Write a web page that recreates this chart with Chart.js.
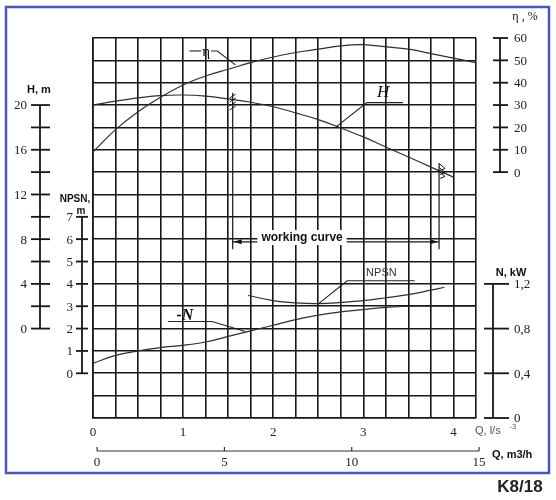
<!DOCTYPE html>
<html>
<head>
<meta charset="utf-8">
<script src="https://cdn.jsdelivr.net/npm/chart.js@4.4.0/dist/chart.umd.min.js"></script>
<style>
  html, body { margin: 0; padding: 0; background: #fff; }
  canvas { display: block; }
</style>
</head>
<body>
<canvas id="pumpChart" width="556" height="500"></canvas>
<script>
// grid: Q in l/s every 0.25, 17 rows
const gridQ = [0, 0.25, 0.5, 0.75, 1, 1.25, 1.5, 1.75, 2, 2.25, 2.5, 2.75, 3, 3.25, 3.5, 3.75, 4, 4.25];
const gridRows = [0, 1, 2, 3, 4, 5, 6, 7, 8, 9, 10, 11, 12, 13, 14, 15, 16, 17];
const flowLabels = [0, 1, 2, 3, 4];

// efficiency eta, %
const qEta = [0, 0.25, 0.5, 0.75, 1, 1.25, 1.5, 1.75, 2, 2.25, 2.5, 2.75, 3, 3.25, 3.5, 3.75, 4, 4.25];
const etaValues = [9, 19, 27, 33.5, 39, 43, 46, 49, 51.5, 53.5, 55, 56.5, 57, 56, 55, 53, 51, 49];

// head H, m
const qHead = [0, 0.25, 0.5, 0.75, 1, 1.25, 1.5, 1.75, 2, 2.25, 2.5, 2.75, 3, 3.25, 3.5, 3.75, 4];
const headValues = [20, 20.35, 20.65, 20.85, 20.9, 20.8, 20.55, 20.25, 19.85, 19.3, 18.7, 17.95, 17.15, 16.25, 15.35, 14.45, 13.55];

// power N, kW
const qPower = [0, 0.25, 0.5, 0.75, 1, 1.25, 1.5, 1.75, 2, 2.25, 2.5, 2.75, 3, 3.25, 3.5, 3.75, 4, 4.25];
const powerValues = [0.49, 0.56, 0.6, 0.63, 0.65, 0.68, 0.73, 0.78, 0.83, 0.88, 0.92, 0.95, 0.97, 0.99, 1.0, 1.0, 1.0, 1.0];

// NPSN, m
const qNpsh = [1.72, 2, 2.25, 2.5, 2.75, 3, 3.25, 3.5, 3.75, 3.9];
const npshValues = [3.48, 3.25, 3.15, 3.12, 3.17, 3.25, 3.38, 3.52, 3.72, 3.85];

// side scales
const headTicks = [0, 2, 4, 6, 8, 10, 12, 14, 16, 18, 20];
const headLabels = ['0', '', '4', '', '8', '', '12', '', '16', '', '20'];
const npshTicks = [0, 1, 2, 3, 4, 5, 6, 7];
const etaTicks = [0, 10, 20, 30, 40, 50, 60];
const powerTicks = [0, 0.4, 0.8, 1.2];
const powerLabels = ['0', '0,4', '0,8', '1,2'];
const flowM3hTicks = [0, 5, 10, 15];

// working range, l/s
const workRange = [1.55, 3.84];

const SERIF = '"Liberation Serif", "DejaVu Serif", serif';
const SANS = '"Liberation Sans", Arial, sans-serif';
const INK = '#161616';
const CURVE = '#2e2e2e';

function pts(qs, vs) {
    return qs.map((q, i) => ({ x: q, y: vs[i] }));
}

function poly(ctx, p) {
    ctx.beginPath();
    ctx.moveTo(p[0][0], p[0][1]);
    for (let i = 1; i < p.length; i++) ctx.lineTo(p[i][0], p[i][1]);
    ctx.stroke();
}

function sideAxis(ctx, scale, x, ticks, labels, t0, t1, labelX, align) {
    const top = scale.getPixelForValue(ticks[ticks.length - 1]);
    const bottom = scale.getPixelForValue(ticks[0]);
    ctx.strokeStyle = INK;
    ctx.lineWidth = 1.8;
    poly(ctx, [[x, top], [x, bottom]]);
    ctx.font = '13px ' + SERIF;
    ctx.fillStyle = '#222';
    ctx.textAlign = align;
    ctx.textBaseline = 'middle';
    ticks.forEach((v, i) => {
        const y = scale.getPixelForValue(v);
        poly(ctx, [[x + t0, y], [x + t1, y]]);
        if (labels[i] !== '') ctx.fillText(labels[i], labelX, y + 1);
    });
}

function arrowHead(ctx, x, y, dir) {
    ctx.beginPath();
    ctx.moveTo(x, y);
    ctx.lineTo(x - dir * 8, y - 2.5);
    ctx.lineTo(x - dir * 8, y + 2.5);
    ctx.closePath();
    ctx.fill();
}

const pumpDecor = {
    id: 'pumpDecor',
    beforeDraw(chart) {
        const ctx = chart.ctx;
        ctx.save();
        ctx.fillStyle = '#fff';
        ctx.fillRect(0, 0, chart.width, chart.height);
        ctx.restore();
    },
    afterDatasetsDraw(chart) {
        const { ctx, chartArea: area, scales } = chart;
        const px = q => scales.x.getPixelForValue(q);
        const py = r => scales.y.getPixelForValue(r);
        ctx.save();

        // margin axes
        sideAxis(ctx, scales.yH, area.left - 53, headTicks, headLabels, -9, 10, area.left - 66, 'right');
        sideAxis(ctx, scales.yNPSN, area.left - 11, npshTicks, npshTicks.map(String), -6, 6, area.left - 20, 'right');
        sideAxis(ctx, scales.yEta, area.right + 24, etaTicks, etaTicks.map(String), -7, 8, area.right + 38, 'left');
        sideAxis(ctx, scales.yN, area.right + 17, powerTicks, powerLabels, -9, 16, area.right + 38, 'left');

        // axis titles
        ctx.fillStyle = '#111';
        ctx.textBaseline = 'middle';
        ctx.font = 'bold 11px ' + SANS;
        ctx.textAlign = 'left';
        ctx.fillText('H, m', area.left - 66, scales.yH.getPixelForValue(20) - 15);
        ctx.font = 'bold 10px ' + SANS;
        ctx.textAlign = 'center';
        ctx.fillText('NPSN,', area.left - 18, scales.yNPSN.getPixelForValue(7) - 18);
        ctx.fillText('m', area.left - 12, scales.yNPSN.getPixelForValue(7) - 6);
        ctx.font = 'bold 11px ' + SANS;
        ctx.fillText('N, kW', area.right + 35, scales.yN.getPixelForValue(1.2) - 11);
        ctx.font = '12px ' + SERIF;
        ctx.fillText('\u03B7 , %', area.right + 49, area.top - 21);

        // flow in m3/h
        const xq = scales.xQ;
        const qy = area.bottom + 33;
        ctx.strokeStyle = '#333';
        ctx.lineWidth = 1.2;
        poly(ctx, [[xq.getPixelForValue(0), qy], [xq.getPixelForValue(15), qy]]);
        ctx.font = '13px ' + SERIF;
        ctx.fillStyle = '#222';
        flowM3hTicks.forEach(v => {
            const x = xq.getPixelForValue(v);
            poly(ctx, [[x, qy], [x, qy - 4]]);
            ctx.fillText(String(v), x, qy + 12);
        });
        ctx.font = 'bold 11px ' + SANS;
        ctx.textAlign = 'left';
        ctx.fillStyle = '#111';
        ctx.fillText('Q, m3/h', area.right + 16, qy + 4);
        ctx.font = '11px ' + SANS;
        ctx.fillStyle = '#555';
        ctx.fillText('Q, l/s', area.right - 1, area.bottom + 13);
        ctx.font = '7px ' + SANS;
        ctx.fillText('-3', area.right + 34, area.bottom + 9);

        // working curve range
        ctx.strokeStyle = INK;
        ctx.fillStyle = INK;
        ctx.lineWidth = 1.2;
        const xl = px(workRange[0]);
        const xr = px(workRange[1]);
        poly(ctx, [[xl, py(14.55)], [xl, py(7.55)]]);
        poly(ctx, [[xr, py(11.4)], [xr, py(7.55)]]);
        const ay = py(7.88);
        poly(ctx, [[xl, ay], [xr, ay]]);
        arrowHead(ctx, xl + 1, ay, -1);
        arrowHead(ctx, xr - 1, ay, 1);
        ctx.font = 'bold 12px ' + SANS;
        ctx.textAlign = 'center';
        const tx = px(2.32);
        const ty = py(8.05);
        const tw = ctx.measureText('working curve').width;
        ctx.fillStyle = '#fff';
        ctx.fillRect(tx - tw / 2 - 4, ty - 8, tw + 8, 15);
        ctx.fillStyle = '#111';
        ctx.fillText('working curve', tx, ty);

        // hatches at ends of working range
        ctx.lineWidth = 1;
        [0, 1, 2, 3].forEach(k => {
            const y = py(14.45) + k * 4;
            poly(ctx, [[xl - 3, y + 3], [xl + 3, y - 1]]);
        });
        [0, 1, 2].forEach(k => {
            const y = py(11.3) + k * 4;
            poly(ctx, [[xr, y - 2], [xr + 6, y + 3], [xr + 1, y + 5]]);
        });

        // curve labels with leaders
        ctx.strokeStyle = '#222';
        ctx.lineWidth = 1.1;
        poly(ctx, [[px(1.07), py(16.42)], [px(1.2), py(16.42)]]);
        poly(ctx, [[px(1.31), py(16.42)], [px(1.38), py(16.42)], [px(1.58), py(15.8)]]);
        ctx.fillStyle = '#111';
        ctx.font = '15px ' + SERIF;
        ctx.fillText('\u03B7', px(1.255), py(16.42) + 1);

        poly(ctx, [[px(3.44), py(14.11)], [px(3.04), py(14.11)], [px(2.69), py(13.0)]]);
        ctx.font = 'italic 17px ' + SERIF;
        ctx.fillText('H', px(3.22), py(14.55));

        poly(ctx, [[px(0.83), py(4.32)], [px(1.32), py(4.32)], [px(1.69), py(3.87)]]);
        ctx.font = 'bold italic 16px ' + SERIF;
        ctx.fillText('-N', px(1.02), py(4.55));

        poly(ctx, [[px(3.57), py(6.14)], [px(2.82), py(6.14)], [px(2.49), py(5.07)]]);
        ctx.font = '11px ' + SANS;
        ctx.fillStyle = '#333';
        ctx.fillText('NPSN', px(3.2), py(6.5));

        ctx.restore();
    },
    afterDraw(chart) {
        const ctx = chart.ctx;
        ctx.save();
        ctx.strokeStyle = '#4b55b6';
        ctx.lineWidth = 2.5;
        ctx.strokeRect(6, 7, 543, 466);
        ctx.fillStyle = '#222';
        ctx.font = 'bold 17px ' + SANS;
        ctx.textAlign = 'center';
        ctx.textBaseline = 'middle';
        ctx.fillText('K8/18', 520, 487);
        ctx.restore();
    }
};

function curve(data, axis) {
    return {
        data: data,
        yAxisID: axis,
        borderColor: CURVE,
        borderWidth: 1.2,
        pointRadius: 0,
        tension: 0.4,
        fill: false
    };
}

const gridStyle = { color: INK, lineWidth: 1.6, drawTicks: false };

new Chart(document.getElementById('pumpChart').getContext('2d'), {
    type: 'line',
    data: {
        datasets: [
            curve(pts(qEta, etaValues), 'yEta'),
            curve(pts(qHead, headValues), 'yH'),
            curve(pts(qPower, powerValues), 'yN'),
            curve(pts(qNpsh, npshValues), 'yNPSN')
        ]
    },
    options: {
        responsive: false,
        animation: false,
        devicePixelRatio: 1,
        layout: { padding: { left: 93, right: 80, top: 38, bottom: 60 } },
        plugins: { legend: { display: false }, tooltip: { enabled: false } },
        scales: {
            x: {
                type: 'linear',
                min: 0,
                max: 4.25,
                afterBuildTicks: s => { s.ticks = gridQ.map(v => ({ value: v })); },
                afterFit: s => { s.height = 22; },
                grid: gridStyle,
                border: { color: INK, width: 1.6 },
                ticks: {
                    autoSkip: false,
                    maxRotation: 0,
                    padding: 7,
                    color: '#222',
                    font: { family: SERIF, size: 13 },
                    callback: v => flowLabels.includes(v) ? String(v) : ''
                }
            },
            y: {
                min: 0,
                max: 17,
                afterBuildTicks: s => { s.ticks = gridRows.map(v => ({ value: v })); },
                afterFit: s => { s.width = 0; },
                grid: gridStyle,
                border: { color: INK, width: 1.6 },
                ticks: { display: false }
            },
            yH: { display: false, min: -8, max: 26 },
            yNPSN: { display: false, min: -2, max: 15 },
            yEta: { display: false, min: -110, max: 60 },
            yN: { display: false, min: 0, max: 3.4 },
            xQ: { display: false, type: 'linear', axis: 'x', position: 'bottom', min: -0.16, max: 14.88 }
        }
    },
    plugins: [pumpDecor]
});
</script>
</body>
</html>
